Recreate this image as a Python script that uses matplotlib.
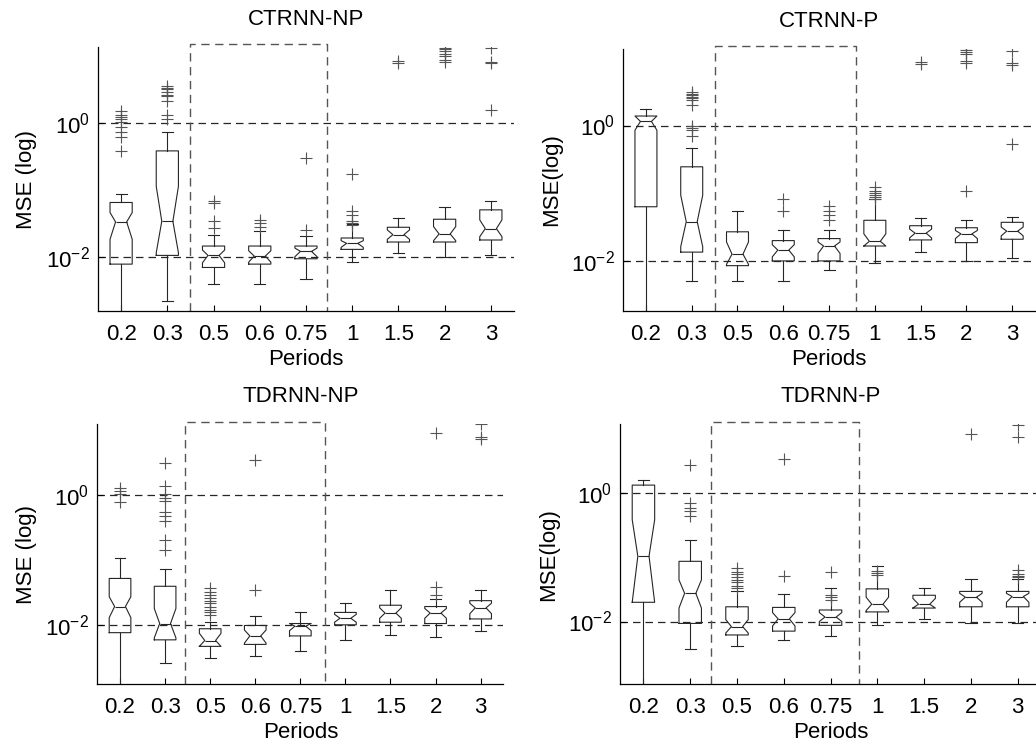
import matplotlib
matplotlib.use('Agg')
import matplotlib.pyplot as plt
from matplotlib.ticker import NullLocator
from matplotlib.transforms import blended_transform_factory

plt.rcParams['font.family'] = ['Liberation Sans', 'DejaVu Sans']
plt.rcParams['font.size'] = 16
plt.rcParams['mathtext.default'] = 'regular'

PERIODS = ['0.2', '0.3', '0.5', '0.6', '0.75', '1', '1.5', '2', '3']

# all values are log10(MSE)
# order inside each row: whishi, q3, cihi, med, cilo, q1, whislo
CT_NP_BOX = [
    [-1.06, -1.19, -1.34, -1.48, -1.74, -2.11, -4.0],
    [-0.14, -0.42, -0.95, -1.47, -1.94, -1.98, -2.66],
    [-1.68, -1.84, -1.90, -1.98, -2.09, -2.16, -2.41],
    [-1.61, -1.84, -1.91, -1.99, -2.08, -2.11, -2.41],
    [-1.69, -1.84, -1.87, -1.92, -2.00, -2.03, -2.33],
    [-1.51, -1.72, -1.76, -1.80, -1.86, -1.89, -2.08],
    [-1.42, -1.56, -1.60, -1.67, -1.74, -1.78, -1.94],
    [-1.25, -1.44, -1.55, -1.66, -1.76, -1.78, -2.00],
    [-1.17, -1.30, -1.45, -1.58, -1.70, -1.75, -1.98],
]
CT_NP_OUT = [
    [0.17, 0.12, 0.09, 0.05, 0.01, -0.06, -0.14, -0.21, -0.42],
    [0.55, 0.52, 0.50, 0.46, 0.42, 0.40, 0.32, 0.11, 0.05],
    [-1.17, -1.20, -1.47, -1.57],
    [-1.45, -1.50, -1.55],
    [-0.52, -1.60],
    [-0.77, -1.32, -1.37, -1.47, -1.49, -1.52],
    [0.92, 0.89],
    [1.12, 1.10, 1.07, 1.03, 0.99, 0.93, 0.90],
    [1.12, 0.90, 0.89, 0.19],
]

CT_P_BOX = [
    [0.24, 0.14, 0.14, 0.06, -0.07, -1.20, -4.0],
    [-0.33, -0.61, -1.03, -1.42, -1.79, -1.87, -2.30],
    [-1.27, -1.57, -1.72, -1.90, -2.05, -2.07, -2.30],
    [-1.54, -1.70, -1.76, -1.84, -1.94, -2.00, -2.30],
    [-1.54, -1.67, -1.72, -1.78, -1.89, -2.00, -2.14],
    [-1.09, -1.40, -1.60, -1.71, -1.78, -1.78, -2.03],
    [-1.37, -1.48, -1.53, -1.59, -1.66, -1.69, -1.87],
    [-1.40, -1.51, -1.55, -1.60, -1.67, -1.73, -2.00],
    [-1.35, -1.43, -1.50, -1.56, -1.63, -1.68, -1.95],
]
CT_P_OUT = [
    [],
    [0.50, 0.47, 0.45, 0.42, 0.40, 0.37, 0.30, 0.00, -0.03, -0.06, -0.16],
    [],
    [-1.09, -1.26],
    [-1.19, -1.26, -1.32, -1.40],
    [-0.91, -0.96, -1.00, -1.03, -1.06, -1.09],
    [0.94, 0.91],
    [1.14, 1.12, 1.09, 1.06, 0.95, 0.92, -0.96],
    [1.10, 0.92, 0.90, -0.28],
]

TD_NP_BOX = [
    [-0.97, -1.28, -1.56, -1.71, -1.88, -2.11, -4.0],
    [-1.14, -1.40, -1.74, -1.97, -2.19, -2.22, -2.57],
    [-1.94, -2.05, -2.12, -2.23, -2.32, -2.32, -2.50],
    [-1.86, -2.00, -2.07, -2.16, -2.27, -2.29, -2.47],
    [-1.80, -1.97, -1.97, -2.01, -2.08, -2.16, -2.39],
    [-1.66, -1.80, -1.83, -1.89, -1.95, -1.99, -2.22],
    [-1.45, -1.69, -1.73, -1.81, -1.89, -1.95, -2.14],
    [-1.60, -1.71, -1.74, -1.81, -1.89, -1.97, -2.17],
    [-1.45, -1.62, -1.66, -1.73, -1.82, -1.90, -2.09],
]
TD_NP_OUT = [
    [0.10, 0.06, 0.01, -0.11],
    [0.49, 0.13, 0.02, -0.05, -0.10, -0.26, -0.33, -0.40, -0.69, -0.84],
    [-1.43, -1.49, -1.53, -1.58, -1.63, -1.66, -1.71, -1.76, -1.80, -1.84],
    [0.54, -1.46],
    [],
    [],
    [],
    [0.94, -1.41, -1.53],
    [1.08, 0.88, 0.86],
]

TD_P_BOX = [
    [0.21, 0.13, -0.41, -0.98, -1.70, -1.70, -4.0],
    [-0.72, -1.06, -1.35, -1.56, -1.79, -2.03, -2.43],
    [-1.53, -1.77, -1.97, -2.08, -2.18, -2.21, -2.38],
    [-1.57, -1.78, -1.86, -1.96, -2.07, -2.15, -2.29],
    [-1.48, -1.82, -1.86, -1.93, -2.00, -2.06, -2.22],
    [-1.14, -1.49, -1.62, -1.73, -1.83, -1.85, -2.05],
    [-1.48, -1.59, -1.64, -1.73, -1.79, -1.79, -1.96],
    [-1.33, -1.53, -1.56, -1.62, -1.70, -1.77, -2.02],
    [-1.33, -1.53, -1.56, -1.61, -1.70, -1.77, -2.02],
]
TD_P_OUT = [
    [],
    [0.45, -0.15, -0.22, -0.28, -0.36],
    [-1.17, -1.22, -1.26, -1.31, -1.35, -1.39, -1.44, -1.48],
    [0.53, -1.29],
    [-1.23, -1.58, -1.62, -1.66],
    [-1.21, -1.24, -1.27],
    [],
    [0.93],
    [1.07, 0.88, -1.19, -1.26, -1.29, -1.31],
]

# panel: title, ylabel, boxes, outliers, axes rect, log ylim, dashed frame x-range
PANELS = [
    ('CTRNN-NP', 'MSE (log)', CT_NP_BOX, CT_NP_OUT,
     [0.0946, 0.5842, 0.4015, 0.3529], (-2.81, 1.13), (2.49, 5.45)),
    ('CTRNN-P', 'MSE(log)', CT_P_BOX, CT_P_OUT,
     [0.6014, 0.5842, 0.3977, 0.3503], (-2.74, 1.13), (2.50, 5.58)),
    ('TDRNN-NP', 'MSE (log)', TD_NP_BOX, TD_NP_OUT,
     [0.0941, 0.0852, 0.3916, 0.3476], (-2.90, 1.08), (2.44, 5.55)),
    ('TDRNN-P', 'MSE(log)', TD_P_BOX, TD_P_OUT,
     [0.5985, 0.0852, 0.4064, 0.3476], (-2.98, 1.08), (2.45, 5.60)),
]

LINE = '#262626'
fig = plt.figure(figsize=(10.36, 7.48), dpi=100)

for title, ylab, boxes, outs, rect, ylim, frame in PANELS:
    ax = fig.add_axes(rect)
    stats = []
    for row, fl in zip(boxes, outs):
        hi, q3, cihi, med, cilo, q1, lo = [10 ** v for v in row]
        stats.append(dict(whishi=hi, q3=q3, cihi=cihi, med=med, cilo=cilo,
                          q1=q1, whislo=lo, fliers=[10 ** v for v in fl]))
    pos = list(range(1, len(PERIODS) + 1))
    ax.bxp(stats, positions=pos, widths=0.48, shownotches=True,
           boxprops=dict(color=LINE, lw=0.8),
           whiskerprops=dict(color=LINE, lw=0.8),
           capprops=dict(color=LINE, lw=0.8),
           medianprops=dict(color=LINE, lw=0.8),
           flierprops=dict(marker='+', markersize=9, markeredgewidth=0.8,
                           markeredgecolor='#555555', linestyle='none'))
    ax.set_yscale('log')
    ax.set_xlim(0.5, 9.5)
    ax.set_ylim(10 ** ylim[0], 10 ** ylim[1])
    ax.set_yticks([1e-2, 1e0])
    ax.yaxis.set_minor_locator(NullLocator())
    ax.set_xticks(pos, PERIODS)
    ax.tick_params(direction='in', length=4, width=0.8, labelsize=16)
    ax.tick_params(axis='x', pad=9)
    ax.tick_params(axis='y', pad=6)
    for s in ['top', 'right']:
        ax.spines[s].set_visible(False)
    for s in ['left', 'bottom']:
        ax.spines[s].set_linewidth(0.9)

    for yv in (1e0, 1e-2):
        ax.axhline(yv, color=LINE, lw=0.9, dashes=(6, 4), zorder=0)

    tr = blended_transform_factory(ax.transData, ax.transAxes)
    ax.plot([frame[0], frame[0], frame[1], frame[1]], [0, 1.01, 1.01, 0],
            transform=tr, color='#555555', lw=1.0, dashes=(6, 4),
            clip_on=False, zorder=0)

    ax.set_title(title, fontsize=16, pad=16)
    ax.set_xlabel('Periods', fontsize=16, labelpad=3)
    ax.set_ylabel(ylab, fontsize=16, labelpad=6)

fig.savefig('out.png', dpi=100)
